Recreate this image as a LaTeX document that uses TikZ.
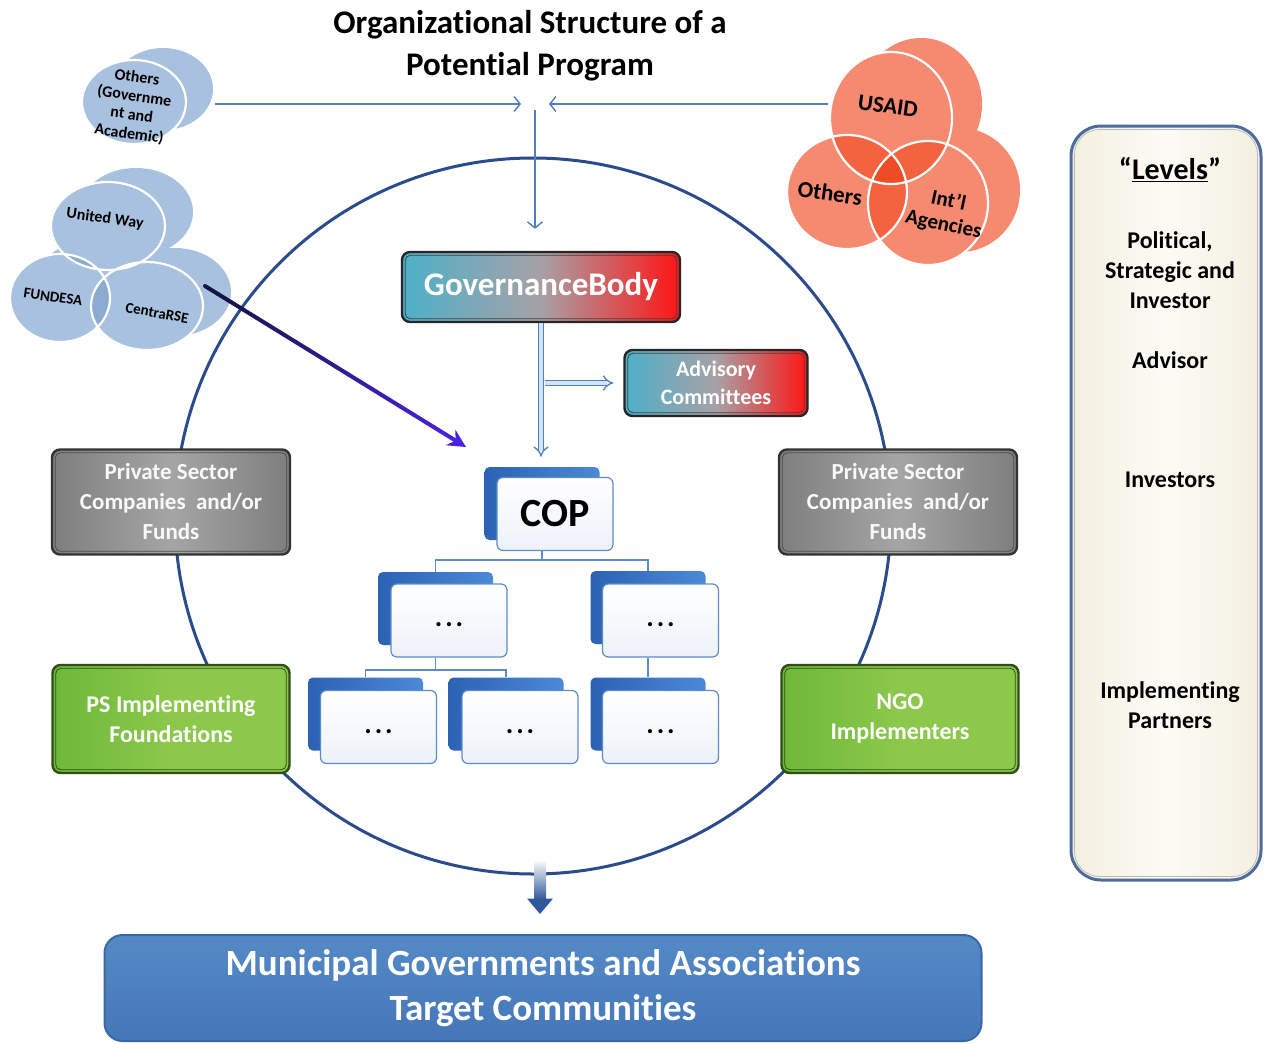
\documentclass[tikz,border=0pt]{standalone}
\usepackage{fontspec}
\setmainfont{Carlito}[Ligatures=NoCommon]
\usetikzlibrary{shapes.geometric,arrows.meta,calc}

\definecolor{linkblue}{HTML}{4F7FBF}
\definecolor{ringblue}{HTML}{2B4C8C}
\definecolor{tealL}{HTML}{4DB0C9}
\definecolor{govmid}{HTML}{A7A1A6}
\definecolor{redR}{HTML}{FF1414}
\definecolor{grayA}{HTML}{7E7E7E}
\definecolor{grayB}{HTML}{A5A5A5}
\definecolor{greenA}{HTML}{6DB83A}
\definecolor{greenB}{HTML}{8CC84B}
\definecolor{greenD}{HTML}{2F4F14}
\definecolor{tblueD}{HTML}{2C62B4}
\definecolor{tblueL}{HTML}{4C89D6}
\definecolor{tline}{HTML}{5E8CC8}
\definecolor{tpale}{HTML}{EDF2F9}
\definecolor{dblblue}{HTML}{4F81BD}
\definecolor{dblpale}{HTML}{D5E3F3}
\definecolor{skyA}{HTML}{A8C1DF}
\definecolor{skyB}{HTML}{8BABD3}
\definecolor{skyC}{HTML}{7396C5}
\definecolor{salA}{HTML}{F68A70}
\definecolor{salB}{HTML}{F3633F}
\definecolor{salC}{HTML}{EE4C25}
\definecolor{navyK}{HTML}{12123A}
\definecolor{violetB}{HTML}{4A22E0}
\definecolor{arrowD}{HTML}{2F5A9A}
\definecolor{muniT}{HTML}{5589C6}
\definecolor{muniB}{HTML}{4577B8}
\definecolor{muniD}{HTML}{3A68A5}
\definecolor{cream}{HTML}{F3F0E0}
\definecolor{creamL}{HTML}{FCFBF5}
\definecolor{levelsB}{HTML}{4D6C9C}

\newcommand\fs[2]{\fontsize{#1}{#2}\selectfont}
% thin second outline just inside a framed box
\newcommand\innerframe[2]{\draw[#2, rounded corners=5pt] ([xshift=4.5pt,yshift=-4.5pt]#1.north west) rectangle ([xshift=-4.5pt,yshift=4.5pt]#1.south east);}
\newcommand\tdots{.\kern3pt.\kern3pt.}

% overlapping ellipses (red group)
\def\vennUSAID{(891,118) ellipse [x radius=61, y radius=66]}
\def\vennOTH{(847,192) ellipse [x radius=60, y radius=57]}
\def\vennINT{(928,203) ellipse [x radius=60, y radius=62]}
\def\vennUSAIDb{(921,104) ellipse [x radius=61, y radius=66]}
\def\vennOTHb{(877,178) ellipse [x radius=60, y radius=57]}
\def\vennINTb{(960,190) ellipse [x radius=60, y radius=62]}
% overlapping ellipses (blue group)
\def\vennUW{(108,226) ellipse [x radius=57, y radius=44]}
\def\vennFU{(60,298) ellipse [x radius=50, y radius=44]}
\def\vennCR{(147,306) ellipse [x radius=56, y radius=44]}
\def\vennUWb{(136,212) ellipse [x radius=57, y radius=44]}
\def\vennFUb{(88,284) ellipse [x radius=50, y radius=44]}
\def\vennCRb{(175,292) ellipse [x radius=56, y radius=44]}
\def\vennOG{(134,102) ellipse [x radius=52, y radius=42]}
\def\vennOGb{(163,89) ellipse [x radius=50, y radius=41]}

\tikzset{
  feed/.style={draw=linkblue, line width=1.4pt, -{Straight Barb[length=6pt,width=15pt]}},
  framebox/.style={rounded corners=8pt, draw=#1, line width=2.4pt, inner sep=0pt, align=center, text=white},
  govbox/.style={framebox=black!85, left color=tealL, right color=redR, middle color=govmid},
  graybox/.style={framebox=black!80, left color=grayA, right color=grayA, middle color=grayB,
    minimum width=238pt, minimum height=105pt, font=\bfseries\fs{23}{30}, text=white!95!gray},
  greenbox/.style={framebox=greenD, left color=greenA, right color=greenB, middle color=greenB,
    minimum width=237pt, minimum height=108pt, font=\bfseries\fs{24}{30}},
  tback/.style={rounded corners=5pt, left color=tblueD, right color=tblueL, minimum width=115pt, minimum height=73pt, inner sep=0pt},
  tfront/.style={rounded corners=6pt, draw=tline, line width=1.2pt, top color=white, bottom color=tpale,
    minimum width=116pt, minimum height=73pt, inner sep=0pt},
  tlink/.style={draw=tline, line width=1.2pt},
  dotsx/.style={font=\bfseries\fs{28}{28}, inner sep=0pt},
  lvl/.style={font=\bfseries\fs{24}{30}, align=center, text=black},
  dbl/.style={draw=dblblue, line width=1.3pt, double=dblpale, double distance=4pt, -{Implies}},
  vtext/.style={font=\bfseries, text=black, align=center, inner sep=0pt},
}

\begin{document}
\begin{tikzpicture}[x=1pt,y=-1pt]
\useasboundingbox (0,0) rectangle (1264,1044);
\fill[white] (0,0) rectangle (1264,1044);

% heading
\node[align=center, font=\bfseries\fs{33}{42}] (title) at (530,46) {Organizational Structure of a\\Potential Program};

% the programme ring
\node[circle, draw=ringblue, line width=3pt, minimum size=716pt, inner sep=0pt] (ring) at (533,516) {};

% ---- blue funders ----
\fill[skyA] \vennOGb;
\fill[skyA] \vennOG;
\draw[white, line width=2.2pt] \vennOG;
\node[vtext, rotate=-8, font=\bfseries\fs{16}{19}] (ogText) at (133,106) {Others\\(Governme\\nt and\\Academic)};

\fill[skyA] \vennUWb \vennFUb \vennCRb;
\fill[skyA] \vennUW \vennFU \vennCR;
\begin{scope}\clip \vennUW; \fill[skyB] \vennFU; \fill[skyB] \vennCR; \end{scope}
\begin{scope}\clip \vennFU; \fill[skyB] \vennCR; \end{scope}
\begin{scope}\clip \vennUW; \clip \vennFU; \fill[skyC] \vennCR; \end{scope}
\draw[white, line width=2.2pt] \vennUW \vennFU \vennCR;
\node[vtext, rotate=-8, font=\bfseries\fs{16}{19}] (uwText) at (105,219) {United Way};
\node[vtext, rotate=-8, font=\bfseries\fs{15}{18}] (fuText) at (53,297) {FUNDESA};
\node[vtext, rotate=-10, font=\bfseries\fs{15}{18}] (crText) at (157,313) {CentraRSE};

% ---- red funders ----
\fill[salA] \vennUSAIDb \vennOTHb \vennINTb;
\fill[salA] \vennUSAID \vennOTH \vennINT;
\begin{scope}\clip \vennUSAID; \fill[salB] \vennOTH; \fill[salB] \vennINT; \end{scope}
\begin{scope}\clip \vennOTH; \fill[salB] \vennINT; \end{scope}
\begin{scope}\clip \vennUSAID; \clip \vennOTH; \fill[salC] \vennINT; \end{scope}
\draw[white, line width=2.2pt] \vennUSAID \vennOTH \vennINT;
\node[vtext, rotate=-8, font=\bfseries\fs{23}{26}] (usaidText) at (888,106) {USAID};
\node[vtext, rotate=-8, font=\bfseries\fs{23}{26}] (othText) at (830,193) {Others};
\node[vtext, rotate=-12, font=\bfseries\fs{21}{24}] (intText) at (946,213) {Int’l\\Agencies};

% ---- funding lines into the programme ----
\coordinate (ogEast) at (215,104);
\coordinate (usaidWest) at (828,104);
\coordinate (hubL) at (521,104);
\coordinate (hubR) at (549,104);
\coordinate (hubTop) at (535,110);

% ---- boxes inside the ring ----
\node[govbox, minimum width=278pt, minimum height=70pt, font=\bfseries\fs{33}{36}] (gov) at (541,287) {GovernanceBody};
\innerframe{gov}{black!75, line width=0.8pt}
\node[govbox, minimum width=183pt, minimum height=66pt, font=\bfseries\fs{22}{28}] (adv) at (716,383) {Advisory\\Committees};
\innerframe{adv}{black!75, line width=0.8pt}

\draw[feed] (ogEast) -- (hubL);
\draw[feed] (usaidWest) -- (hubR);
\draw[feed] (hubTop) -- ([yshift=22pt]gov.north -| hubTop);

\node[graybox] (psL) at (171,502) {Private Sector\\Companies\ \ and/or\\Funds};
\innerframe{psL}{black!70, line width=0.8pt}
\node[graybox] (psR) at (898,502) {Private Sector\\Companies\ \ and/or\\Funds};
\innerframe{psR}{black!70, line width=0.8pt}
\node[greenbox] (psf) at (171,719) {PS Implementing\\Foundations};
\innerframe{psf}{greenD, line width=0.8pt}
\node[greenbox] (ngo) at (900,719) {NGO\\Implementers};
\innerframe{ngo}{greenD, line width=0.8pt}

% chart of the chief of party
\node[tback] (copB) at (542,503.5) {};
\node[tfront, font=\bfseries\fs{40}{40}] (cop) at (555,514) {COP};
\node[tback] (l2aB) at (435.5,608.5) {};
\node[tfront] (l2a) at (449,620.5) {};
\node[tback] (l2bB) at (648,607.5) {};
\node[tfront] (l2b) at (660.5,620.5) {};
\node[tback] (l3aB) at (365.5,714) {};
\node[tfront] (l3a) at (378.5,727) {};
\node[tback] (l3bB) at (506,714) {};
\node[tfront] (l3b) at (520,727) {};
\node[tback] (l3cB) at (648,714) {};
\node[tfront] (l3c) at (660.5,727) {};
\node[dotsx] (d2a) at ([yshift=-4pt]l2a.center) {\tdots};
\node[dotsx] (d2b) at ([yshift=-4pt]l2b.center) {\tdots};
\node[dotsx] (d3a) at ([yshift=-5pt]l3a.center) {\tdots};
\node[dotsx] (d3b) at ([yshift=-5pt]l3b.center) {\tdots};
\node[dotsx] (d3c) at ([yshift=-5pt]l3c.center) {\tdots};

\draw[tlink] (copB.center |- cop.south) -- (copB.center |- 0,560) -| (l2aB.north);
\draw[tlink] (copB.center |- 0,560) -| (l2bB.north);
\draw[tlink] (l2aB.center |- l2a.south) -- (l2aB.center |- 0,670) -| (l3aB.north);
\draw[tlink] (l2aB.center |- 0,670) -| (l3bB.north);
\draw[tlink] (l2bB.center |- l2b.south) -- (l3cB.north);

% governance to COP and advisory committees
\draw[dbl, shorten >=10pt] (gov.south) -- (gov.south |- copB.north);
\draw[dbl, shorten >=10pt] ([xshift=3.6pt]gov.south |- adv.west) -- (adv.west);

% private funders into the chart
\coordinate (fundA) at (205,286);
\coordinate (copAim) at (466,447);
\foreach \k in {0,...,18}{
  \pgfmathsetmacro\ta{\k/20}
  \pgfmathsetmacro\tb{(\k+1)/20}
  \pgfmathtruncatemacro\pc{5*\k+5}
  \draw[line width=4pt, line cap=round, violetB!\pc!navyK] ($(fundA)!\ta!(copAim)$) -- ($(fundA)!\tb!(copAim)$);
}
\draw[line width=4pt, violetB, -{Stealth[length=18pt,width=18pt]}] ($(fundA)!0.95!(copAim)$) -- (copAim);

% levels panel
\node[draw=levelsB, line width=3pt, rounded corners=30pt, left color=cream, right color=cream, middle color=creamL,
  minimum width=190pt, minimum height=754pt, inner sep=0pt] (levels) at (1166,503) {};
\draw[gray!55, line width=0.8pt, rounded corners=25pt] ([xshift=5pt,yshift=-5pt]levels.north west) rectangle ([xshift=-5pt,yshift=5pt]levels.south east);
\node[lvl, font=\bfseries\fs{30}{34}] (lvHead) at (1170,170) {“\underline{Levels}”};
\node[lvl] (lvPol) at (1170,270) {Political,\\Strategic and\\Investor};
\node[lvl] (lvAdv) at (1170,360) {Advisor};
\node[lvl] (lvInv) at (1170,480) {Investors};
\node[lvl] (lvImp) at (1170,705) {Implementing\\Partners};

% beneficiaries
\node[draw=muniD, line width=2pt, top color=muniT, bottom color=muniB, rounded corners=18pt,
  minimum width=877pt, minimum height=106pt, inner sep=0pt, text=white, align=center,
  font=\bfseries\fs{37}{45}] (muni) at (543,988) {Municipal Governments and Associations\\Target Communities};
\shade[top color=white, bottom color=arrowD] ([xshift=1pt,yshift=16pt]ring.south) rectangle ([xshift=13pt,yshift=-24pt]ring.south);
\fill[arrowD] ([xshift=-6pt,yshift=-23pt]ring.south) -- ([xshift=20pt,yshift=-23pt]ring.south) -- ([xshift=-3pt,yshift=20pt]muni.north) -- cycle;
\end{tikzpicture}
\end{document}
